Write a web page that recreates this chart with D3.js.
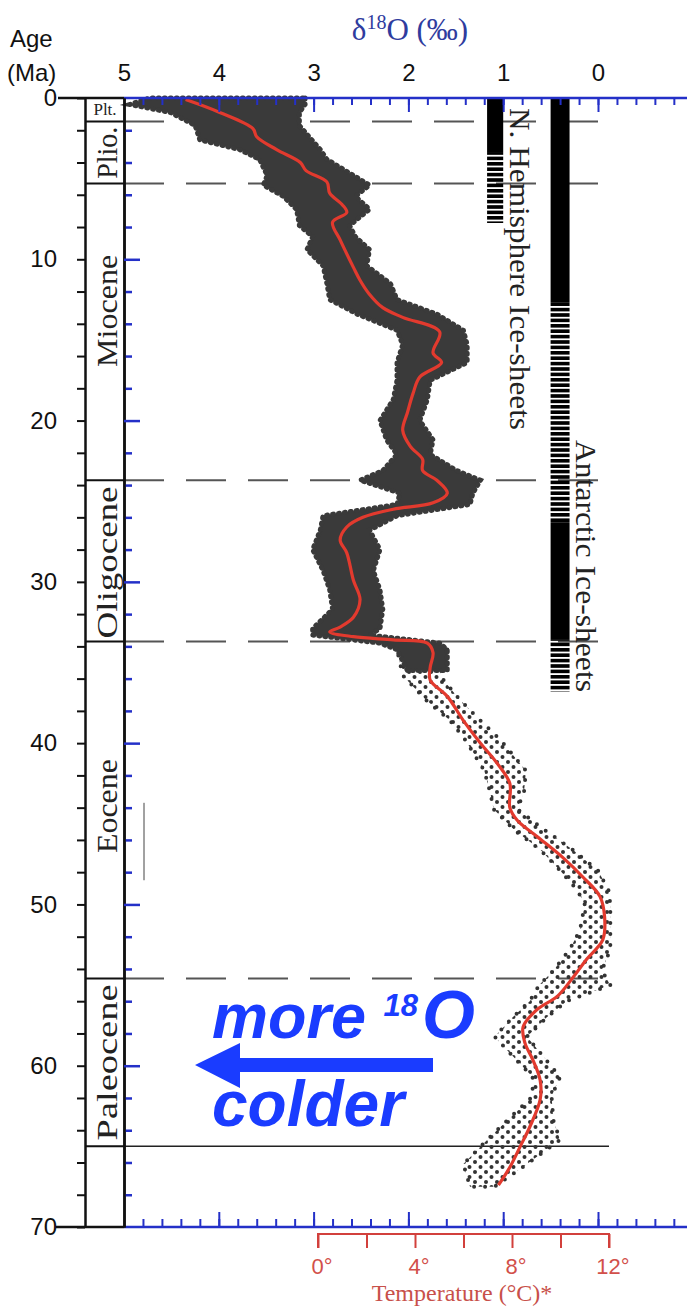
<!DOCTYPE html>
<html>
<head>
<meta charset="utf-8">
<script src="https://cdn.jsdelivr.net/npm/d3@7"></script>
<style>
  body { margin: 0; background: #fff; }
  svg { display: block; }
</style>
</head>
<body>
<div id="chart"></div>
<script>

// red smoothed curve, age (Ma) and d18O (permil)
var curveAge = [0.1, 0.9, 1.9, 2.4, 3.2, 4.0, 4.5, 5.2, 5.9, 6.6, 7.1, 7.7, 8.8, 10.5, 11.3, 12.1, 13.0, 13.6, 14.5,
  15.8, 16.4, 17.3, 18.3, 19.5, 20.6, 21.6, 22.4, 23.1, 23.7, 24.5, 25.1, 25.5, 26.0, 26.6, 27.4, 28.2, 29.9,
  31.1, 32.2, 32.8, 33.1, 33.4, 33.6, 33.8, 34.4, 35.3, 36.1, 37.1, 38.6, 40.0, 41.2, 42.5, 44.0, 44.8, 45.8,
  47.1, 48.3, 49.5, 50.8, 52.2, 53.4, 54.5, 55.7, 56.5, 57.6, 58.6, 59.6, 60.9, 62.1, 63.8, 65.0, 66.3, 67.4];
var curveD18O = [4.35, 3.99, 3.64, 3.60, 3.39, 3.14, 3.08, 2.86, 2.83, 2.70, 2.65, 2.80, 2.72, 2.58, 2.51, 2.42, 2.27, 2.06, 1.67,
  1.74, 1.65, 1.88, 1.95, 2.01, 2.06, 1.98, 1.85, 1.85, 1.70, 1.59, 1.74, 2.16, 2.48, 2.65, 2.72, 2.65, 2.58,
  2.51, 2.58, 2.72, 2.83, 2.58, 2.16, 1.80, 1.74, 1.77, 1.77, 1.59, 1.42, 1.24, 1.07, 0.93, 0.93, 0.85, 0.64,
  0.37, 0.16, -0.02, -0.07, -0.05, 0.12, 0.26, 0.43, 0.64, 0.79, 0.77, 0.69, 0.61, 0.61, 0.72, 0.82, 0.93, 1.05];

// spread of the measurements: dense part (0-35 Ma)
var denseAge = [0.0, 0.4, 0.9, 1.7, 2.6, 3.2, 3.8, 4.8, 5.4, 6.1, 6.9, 7.9, 8.6, 9.4, 10.4, 11.5, 12.5, 13.4, 14.4,
  15.3, 16.4, 17.5, 18.7, 20.0, 21.2, 22.1, 23.1, 23.7, 24.5, 25.2, 25.9, 26.8, 28.0, 29.3, 30.5, 31.7, 32.9,
  33.3, 33.8, 34.2, 35.5];
var denseHigh = [4.73, 4.94, 4.51, 4.25, 4.20, 3.78, 3.57, 3.49, 3.53, 3.32, 3.18, 3.15, 3.01, 3.07, 2.90, 2.86, 2.83, 2.54, 2.12,
  2.06, 2.12, 2.12, 2.16, 2.30, 2.23, 2.12, 2.27, 2.51, 2.09, 2.12, 2.90, 2.93, 3.01, 2.90, 2.83, 2.80, 3.01,
  3.01, 2.30, 2.12, 2.01];
var denseLow = [3.09, 3.09, 3.15, 3.15, 3.02, 2.93, 2.86, 2.58, 2.41, 2.56, 2.41, 2.62, 2.56, 2.41, 2.44, 2.19, 2.12, 1.70, 1.42,
  1.38, 1.38, 1.77, 1.80, 1.88, 1.74, 1.77, 1.49, 1.24, 1.32, 1.35, 2.12, 2.41, 2.30, 2.37, 2.30, 2.27, 2.30,
  2.41, 1.67, 1.59, 1.59];

// sparse part (34-68 Ma)
var sparseAge = [34.2, 35.8, 37.3, 38.6, 39.8, 41.7, 43.0, 44.1, 45.4, 46.6, 47.9, 49.1, 50.0, 51.6, 52.8, 54.1,
  55.0, 56.0, 57.0, 58.2, 59.4, 60.7, 61.9, 63.4, 64.6, 66.1, 67.5];
var sparseHigh = [2.12, 2.06, 1.82, 1.56, 1.40, 1.20, 1.14, 1.10, 0.88, 0.61, 0.40, 0.22, 0.14, 0.19, 0.30, 0.47,
  0.62, 0.72, 0.90, 1.09, 0.90, 0.69, 0.69, 0.96, 1.17, 1.42, 1.35];
var sparseLow = [1.59, 1.67, 1.46, 1.24, 1.03, 0.76, 0.78, 0.85, 0.56, 0.27, 0.00, -0.11, -0.13, -0.13, -0.13, -0.04,
  -0.13, 0.33, 0.54, 0.75, 0.58, 0.40, 0.49, 0.47, 0.40, 0.75, 1.09];

// epochs
var epochNames = ["Plt.", "Plio.", "Miocene", "Oligocene", "Eocene", "Paleocene"];
var epochEnd = [1.45, 5.3, 23.7, 33.7, 54.6, 65];
var dashedAges = [1.45, 5.3, 23.7, 33.7, 54.6];

// ice sheets: [start, end, solid?]
var nhIce = [[0, 3.35, true], [3.35, 7.75, false]];
var antIce = [[0, 12.7, true], [12.7, 26.3, false], [26.3, 33.6, true], [33.6, 36.8, false]];

var d18oTicks = [5, 4, 3, 2, 1, 0];
var ageTicks = [0, 10, 20, 30, 40, 50, 60, 70];
var tempTicks = [0, 4, 8, 12];

var width = 687, height = 1308;
var blue = "#2430c8";
var sans = "Liberation Sans, Arial, sans-serif";
var serif = "Liberation Serif, Times New Roman, serif";

// epoch label placement: centre (Ma) and printed length (px)
var epochLabelAge = [0.7, 3.4, 13.2, 28.8, 43.9, 59.8];
var epochLabelLen = [0, 52, 112, 152, 94, 156];

var svg = d3.select("#chart").append("svg")
  .attr("width", width).attr("height", height);

var defs = svg.append("defs");
var stripes = defs.append("pattern").attr("id", "stripes")
  .attr("patternUnits", "userSpaceOnUse").attr("width", 30).attr("height", 5.4);
stripes.append("rect").attr("width", 30).attr("height", 3.6).attr("fill", "#000");

var dots = defs.append("pattern").attr("id", "dots")
  .attr("patternUnits", "userSpaceOnUse").attr("width", 11).attr("height", 10);
dots.append("circle").attr("cx", 2).attr("cy", 2).attr("r", 2).attr("fill", "#333");
dots.append("circle").attr("cx", 7.5).attr("cy", 7).attr("r", 2).attr("fill", "#333");

var y = d3.scaleLinear().domain([0, 70]).range([98, 1227]);
var x = d3.scaleLinear().domain([5, 0]).range([124, 598]);
var xT = d3.scaleLinear().domain([0, 12]).range([318, 609]);

// dashed epoch boundaries
svg.selectAll("line.dash").data(dashedAges).enter().append("line")
  .attr("x1", 124).attr("x2", 611)
  .attr("y1", function(d) { return y(d); }).attr("y2", function(d) { return y(d); })
  .attr("stroke", "#555").attr("stroke-width", 2).attr("stroke-dasharray", "40,22");
svg.append("line").attr("x1", 124).attr("x2", 609).attr("y1", y(65)).attr("y2", y(65))
  .attr("stroke", "#222").attr("stroke-width", 1.5);

// ice sheet bars
function iceBars(data, d0, d1) {
  svg.selectAll(null).data(data).enter().append("rect")
    .attr("x", x(d0)).attr("width", x(d1) - x(d0))
    .attr("y", function(d) { return y(d[0]); })
    .attr("height", function(d) { return y(d[1]) - y(d[0]); })
    .attr("fill", function(d) { return d[2] ? "#000" : "url(#stripes)"; });
}
iceBars(nhIce, 1.17, 1.0);
iceBars(antIce, 0.5, 0.3);

svg.append("text")
  .attr("transform", "translate(510,269) rotate(90)")
  .attr("text-anchor", "middle")
  .attr("textLength", 322).attr("lengthAdjust", "spacingAndGlyphs")
  .style("font-family", serif).style("font-size", "30px").attr("fill", "#222")
  .text("N. Hemisphere Ice-sheets");
svg.append("text")
  .attr("transform", "translate(576,566) rotate(90)")
  .attr("text-anchor", "middle")
  .attr("textLength", 252).attr("lengthAdjust", "spacingAndGlyphs")
  .style("font-family", serif).style("font-size", "30px").attr("fill", "#222")
  .text("Antarctic Ice-sheets");

// scatter cloud
var dense = denseAge.map(function(a, i) { return {a: a, hi: denseHigh[i], lo: denseLow[i]}; });
var sparse = sparseAge.map(function(a, i) { return {a: a, hi: sparseHigh[i], lo: sparseLow[i]}; });
var band = d3.area()
  .y(function(d) { return y(d.a); })
  .x0(function(d) { return x(d.hi); })
  .x1(function(d) { return x(d.lo); })
  .curve(d3.curveLinear);

svg.append("path").datum(sparse).attr("d", band)
  .attr("fill", "url(#dots)")
  .attr("stroke", "#333").attr("stroke-width", 4).attr("stroke-linecap", "round")
  .attr("stroke-dasharray", "0,11");
svg.append("path").datum(dense).attr("d", band)
  .attr("fill", "#3a3a3a")
  .attr("stroke", "#3a3a3a").attr("stroke-width", 5).attr("stroke-linecap", "round")
  .attr("stroke-dasharray", "1,5");

// red smoothed record
var line = d3.line()
  .y(function(d, i) { return y(curveAge[i]); })
  .x(function(d) { return x(d); })
  .curve(d3.curveCatmullRom);
svg.append("path").datum(curveD18O).attr("d", line)
  .attr("fill", "none").attr("stroke", "#e23a2e").attr("stroke-width", 3.2);

// small stray line in Eocene column
svg.append("line").attr("x1", 144).attr("x2", 144).attr("y1", y(43.7)).attr("y2", y(48.5))
  .attr("stroke", "#444").attr("stroke-width", 1);

// top d18O axis
var minorVals = d3.range(-8, 26).map(function(i) { return i / 5; }).filter(function(v) { return v < 5; });
var topAx = svg.append("g").attr("transform", "translate(0,98)");
topAx.append("g").call(d3.axisBottom(x).tickValues(minorVals).tickSize(7).tickFormat(""));
topAx.append("g").call(d3.axisBottom(x).tickValues(d18oTicks.slice(1)).tickSize(14).tickFormat(""));
topAx.selectAll(".domain").remove();
topAx.selectAll("line").attr("stroke", blue).attr("stroke-width", 2);
svg.append("line").attr("x1", 124).attr("x2", 687).attr("y1", 98).attr("y2", 98)
  .attr("stroke", blue).attr("stroke-width", 2.5);

var topLab = svg.append("g").attr("transform", "translate(0,98)")
  .call(d3.axisTop(x).tickValues(d18oTicks).tickSize(0).tickPadding(17).tickFormat(d3.format("d")));
topLab.select(".domain").remove();
topLab.selectAll("text").style("font-family", sans)
  .style("font-size", "24px").attr("fill", "#111");

svg.append("text").attr("x", 410).attr("y", 40).attr("text-anchor", "middle")
  .style("font-family", serif).style("font-size", "31px").attr("fill", "#2f3c9e")
  .html('δ<tspan dy="-11" font-size="20px">18</tspan><tspan dy="11">O (‰)</tspan>');

// bottom d18O axis
var botAx = svg.append("g").attr("transform", "translate(0,1227)");
botAx.append("g").call(d3.axisTop(x).tickValues(minorVals.filter(function(v) { return v < 4.9; })).tickSize(8).tickFormat(""));
botAx.append("g").call(d3.axisTop(x).tickValues(d18oTicks.slice(1)).tickSize(15).tickFormat(""));
botAx.selectAll(".domain").remove();
botAx.selectAll("line").attr("stroke", blue).attr("stroke-width", 2);
svg.append("line").attr("x1", 124).attr("x2", 687).attr("y1", 1227).attr("y2", 1227)
  .attr("stroke", blue).attr("stroke-width", 2.5);

// temperature axis
var tAxis = svg.append("g").attr("transform", "translate(0,1234)")
  .call(d3.axisBottom(xT).tickValues(d3.range(0, 13, 2)).tickSize(14).tickFormat(""));
tAxis.select(".domain").attr("d", "M" + xT(0) + ",14V0H" + xT(12) + "V14");
tAxis.selectAll("line, .domain").attr("stroke", "#d2403c").attr("stroke-width", 2).attr("fill", "none");
svg.selectAll("text.tlab").data(tempTicks).enter().append("text")
  .attr("x", function(d) { return xT(d) + 4; }).attr("y", 1274).attr("text-anchor", "middle")
  .style("font-family", sans).style("font-size", "22px").attr("fill", "#d2504a")
  .text(function(d) { return d + "°"; });
svg.append("text").attr("x", 462).attr("y", 1301).attr("text-anchor", "middle")
  .style("font-family", serif).style("font-size", "24px").attr("fill", "#c8504a")
  .text("Temperature (°C)*");

// age axes
var ageMinor = d3.range(0, 71, 2);
var outer = svg.append("g").attr("transform", "translate(85,0)")
  .call(d3.axisLeft(y).tickValues(ageMinor).tickSize(8).tickFormat("").tickSizeOuter(0));
outer.selectAll("line").attr("stroke", "#111").attr("stroke-width", 2);
outer.select(".domain").attr("stroke", "#111").attr("stroke-width", 2.5);

var ageLab = svg.append("g").attr("transform", "translate(85,0)")
  .call(d3.axisLeft(y).tickValues(ageTicks).tickSize(0).tickPadding(28));
ageLab.select(".domain").remove();
ageLab.selectAll("text").style("font-family", sans)
  .style("font-size", "24px").attr("fill", "#111");

var inner = svg.append("g").attr("transform", "translate(124,0)");
inner.append("g").call(d3.axisRight(y).tickValues(ageMinor.filter(function(v) { return v % 10 != 0; })).tickSize(8).tickFormat("").tickSizeOuter(0));
inner.append("g").call(d3.axisRight(y).tickValues([10, 20, 30, 40, 50, 60]).tickSize(16).tickFormat("").tickSizeOuter(0));
inner.selectAll(".tick line").attr("stroke", blue).attr("stroke-width", 2.5);
inner.selectAll(".domain").attr("stroke", "#111").attr("stroke-width", 2.5);

svg.append("line").attr("x1", 58).attr("x2", 124).attr("y1", 98).attr("y2", 98).attr("stroke", "#111").attr("stroke-width", 2.5);
svg.append("line").attr("x1", 56).attr("x2", 124).attr("y1", 1227).attr("y2", 1227).attr("stroke", "#111").attr("stroke-width", 2.5);

// epoch boxes
svg.selectAll("line.ep").data(epochEnd).enter().append("line")
  .attr("x1", 85).attr("x2", 124)
  .attr("y1", function(d) { return y(d); }).attr("y2", function(d) { return y(d); })
  .attr("stroke", "#111").attr("stroke-width", 2);
var epochText = svg.selectAll("text.ep").data(epochNames).enter().append("text")
  .attr("transform", function(d, i) {
    return i == 0 ? "translate(105," + (y(epochLabelAge[i]) + 6) + ")"
                  : "translate(117," + y(epochLabelAge[i]) + ") rotate(-90)";
  })
  .attr("text-anchor", "middle")
  .style("font-family", serif)
  .style("font-size", function(d, i) { return i == 0 ? "17px" : "30px"; })
  .attr("fill", "#222")
  .text(function(d) { return d; });
epochText.filter(function(d, i) { return i > 0; })
  .attr("textLength", function(d) { return epochLabelLen[epochNames.indexOf(d)]; })
  .attr("lengthAdjust", "spacingAndGlyphs");

svg.append("text").attr("x", 10).attr("y", 47)
  .style("font-family", sans).style("font-size", "24px").attr("fill", "#111").text("Age");
svg.append("text").attr("x", 7).attr("y", 81)
  .style("font-family", sans).style("font-size", "24px").attr("fill", "#111").text("(Ma)");

// colder arrow annotation
var ann = svg.append("g").attr("fill", "#1a3cff")
  .style("font-family", sans).style("font-weight", "bold").style("font-style", "italic");
ann.append("text").attr("x", 212).attr("y", 1038).style("font-size", "63px")
  .html('more <tspan dy="-22" font-size="31px">18</tspan><tspan dy="22" dx="4" font-size="68px">O</tspan>');
ann.append("text").attr("x", 212).attr("y", 1126).style("font-size", "64px").text("colder");
ann.append("path").attr("d", "M433,1058H240V1043L195,1065L240,1088V1072H433Z");

</script>
</body>
</html>
